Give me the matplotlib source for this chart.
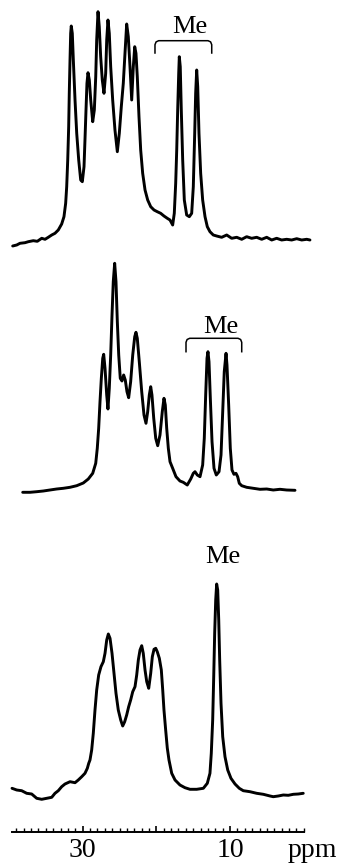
import numpy as np
import matplotlib
matplotlib.use("Agg")
import matplotlib.pyplot as plt
from matplotlib import ticker

plt.rcParams['font.family'] = ['Liberation Serif', 'DejaVu Serif']

# traced spectra: (chemical shift ppm, intensity a.u.)
spec_top = [
    (39.50, 0.0), (38.95, 1.0), (38.51, 2.7), (37.83, 3.3), (37.38, 4.3), (36.70, 5.3),
    (36.16, 4.7), (35.56, 7.7), (35.11, 6.7), (34.67, 8.7), (34.20, 11.0), (33.76, 12.7),
    (33.31, 16.0), (32.85, 22.0), (32.54, 29.3), (32.31, 42.7), (32.17, 59.3), (32.03, 86.0),
    (31.90, 119.3), (31.82, 152.7), (31.72, 186.0), (31.63, 212.7), (31.55, 220.0),
    (31.41, 212.7), (31.27, 186.0), (31.04, 146.0), (30.81, 112.7), (30.54, 86.0),
    (30.27, 66.0), (30.05, 64.3), (29.82, 79.3), (29.69, 106.0), (29.55, 136.0),
    (29.42, 162.7), (29.28, 173.3), (29.10, 166.0), (28.91, 146.0), (28.64, 124.3),
    (28.42, 136.0), (28.23, 169.3), (28.10, 206.0), (27.92, 234.3), (27.75, 219.3),
    (27.56, 189.3), (27.34, 166.0), (27.11, 152.7), (26.88, 172.7), (26.74, 206.0),
    (26.57, 226.0), (26.39, 212.7), (26.20, 179.3), (25.93, 146.0), (25.62, 116.0),
    (25.30, 94.3), (25.03, 112.7), (24.76, 139.3), (24.49, 162.7), (24.26, 192.7),
    (24.03, 222.0), (23.81, 209.3), (23.58, 179.3), (23.35, 146.0), (23.13, 179.3),
    (22.94, 199.3), (22.77, 192.7), (22.59, 169.3), (22.36, 129.3), (22.13, 96.0),
    (21.86, 72.7), (21.54, 56.0), (21.18, 46.0), (20.77, 39.3), (20.32, 36.0),
    (19.88, 34.3), (19.42, 32.7), (18.97, 30.0), (18.52, 27.7), (18.15, 26.0),
    (17.79, 21.0), (17.57, 32.7), (17.38, 62.7), (17.24, 96.0), (17.11, 136.0),
    (16.97, 172.7), (16.89, 189.3), (16.76, 179.3), (16.62, 136.0), (16.43, 86.0),
    (16.21, 46.0), (15.89, 31.0), (15.53, 29.3), (15.21, 32.7), (14.99, 59.3),
    (14.80, 112.7), (14.67, 152.7), (14.53, 176.0), (14.39, 159.3), (14.22, 112.7),
    (13.99, 72.7), (13.72, 46.0), (13.40, 29.3), (13.09, 19.3), (12.73, 14.3),
    (12.28, 11.0), (11.82, 10.0), (11.14, 8.7), (10.46, 11.0), (9.78, 7.7), (9.10, 8.7),
    (8.42, 6.7), (7.75, 9.3), (7.07, 7.7), (6.39, 8.7), (5.71, 6.7), (5.03, 8.7),
    (4.35, 6.0), (3.68, 7.7), (3.00, 6.0), (2.32, 6.7), (1.64, 6.0), (0.96, 7.3),
    (0.28, 6.0), (-0.40, 6.7), (-0.84, 6.0),
]

spec_mid = [
    (38.14, 0.7), (37.15, 0.7), (36.24, 1.3), (35.34, 2.0), (34.44, 3.0), (33.53, 4.0),
    (32.63, 4.7), (31.72, 5.7), (30.81, 7.3), (29.92, 10.0), (29.24, 14.0), (28.64, 19.7),
    (28.23, 29.7), (28.02, 44.7), (27.83, 64.7), (27.65, 91.3), (27.47, 114.7),
    (27.28, 134.7), (27.15, 138.7), (26.97, 124.7), (26.74, 98.0), (26.57, 84.0),
    (26.39, 104.7), (26.20, 138.0), (26.02, 178.0), (25.85, 211.3), (25.66, 229.7),
    (25.48, 211.3), (25.30, 171.3), (25.11, 138.0), (24.90, 114.7), (24.67, 112.0),
    (24.44, 118.0), (24.22, 113.0), (23.99, 101.3), (23.76, 95.3), (23.49, 111.3),
    (23.21, 138.0), (22.94, 156.3), (22.77, 160.7), (22.59, 154.7), (22.32, 131.3),
    (21.99, 101.3), (21.68, 78.0), (21.41, 69.7), (21.18, 81.3), (20.96, 98.0),
    (20.77, 106.3), (20.60, 98.0), (20.36, 74.7), (20.09, 54.7), (19.82, 47.3),
    (19.51, 58.0), (19.20, 81.3), (18.97, 94.7), (18.79, 88.0), (18.60, 64.7),
    (18.38, 44.7), (18.15, 31.3), (17.79, 24.7), (17.34, 16.3), (16.80, 12.0),
    (16.35, 10.7), (15.81, 8.0), (15.34, 14.0), (14.99, 19.7), (14.76, 21.3),
    (14.45, 18.0), (14.08, 16.3), (13.72, 28.0), (13.50, 54.7), (13.31, 98.0),
    (13.13, 134.7), (13.00, 141.3), (12.86, 131.3), (12.68, 94.7), (12.45, 51.3),
    (12.18, 24.7), (11.87, 18.0), (11.50, 21.3), (11.23, 38.0), (11.00, 81.3),
    (10.79, 121.3), (10.55, 139.7), (10.42, 128.0), (10.19, 88.0), (9.97, 44.7),
    (9.74, 23.0), (9.47, 18.7), (9.20, 19.7), (8.97, 16.3), (8.75, 9.7), (8.42, 7.3),
    (7.75, 5.7), (6.85, 4.7), (5.94, 3.7), (5.03, 4.0), (4.14, 3.0), (3.23, 3.7),
    (2.32, 3.0), (1.19, 2.7),
]

spec_bot = [
    (39.59, 11.7), (38.95, 10.0), (38.28, 9.3), (37.60, 6.7), (36.92, 6.0), (36.24, 1.7),
    (35.56, 0.7), (34.88, 1.7), (34.20, 2.7), (33.76, 6.7), (33.31, 9.3), (32.85, 13.3),
    (32.40, 16.0), (31.72, 18.3), (31.04, 17.3), (30.60, 20.0), (30.13, 23.3),
    (29.69, 26.7), (29.37, 31.7), (29.18, 36.7), (29.01, 40.0), (28.78, 50.0),
    (28.56, 66.7), (28.33, 90.0), (28.10, 110.0), (27.83, 125.0), (27.52, 133.3),
    (27.20, 138.3), (26.97, 146.7), (26.74, 160.0), (26.52, 166.0), (26.29, 161.7),
    (26.02, 146.7), (25.75, 126.7), (25.48, 106.7), (25.17, 90.0), (24.84, 80.0),
    (24.57, 74.0), (24.30, 78.3), (24.03, 85.0), (23.76, 93.3), (23.49, 100.0),
    (23.21, 108.3), (22.90, 113.3), (22.67, 125.0), (22.45, 140.0), (22.22, 150.0),
    (21.99, 154.3), (21.78, 146.7), (21.54, 130.0), (21.31, 118.3), (21.04, 111.7),
    (20.77, 126.7), (20.55, 143.3), (20.32, 150.7), (20.09, 151.7), (19.88, 148.3),
    (19.60, 141.7), (19.33, 130.0), (19.14, 110.0), (18.97, 90.0), (18.74, 70.0),
    (18.52, 52.0), (18.29, 40.0), (17.92, 26.7), (17.47, 20.0), (16.80, 15.0),
    (16.12, 12.3), (15.44, 10.7), (14.53, 10.7), (13.63, 11.7), (13.09, 16.7),
    (12.73, 26.7), (12.55, 46.7), (12.36, 80.0), (12.22, 123.3), (12.09, 166.7),
    (11.95, 200.0), (11.82, 216.0), (11.68, 210.0), (11.54, 180.0), (11.41, 140.0),
    (11.23, 96.7), (11.00, 63.3), (10.69, 43.3), (10.32, 30.0), (9.88, 21.7),
    (9.33, 16.0), (8.75, 11.7), (8.21, 9.3), (7.30, 8.3), (6.39, 6.7), (5.49, 5.7),
    (4.58, 4.0), (4.14, 3.3), (3.46, 4.0), (2.78, 5.0), (2.10, 4.7), (1.42, 5.7),
    (0.74, 6.0), (0.07, 6.7),
]

# "Me" label: (ppm of label, bracket span in ppm or None)
me_labels = [
    (15.44, (20.19, 12.49)),
    (11.27, (15.98, 8.42)),
    (11.03, None),
]

scale_range = (0.0, 39.6)
major_ticks = [30, 20, 10]
major_labels = ['30', '', '10']


def draw_bracket(ax, x0, x1, y_top, y_end):
    dx, dy = 0.5, 4.0
    xs = [x0, x0, x0 - 0.15, x0 - dx, x1 + dx, x1 + 0.15, x1, x1]
    ys = [y_end, y_top - dy, y_top - 1.2, y_top, y_top, y_top - 1.2, y_top - dy, y_end]
    ax.plot(xs, ys, color='black', lw=1.1, solid_joinstyle='round')


def main():
    fig = plt.figure(figsize=(3.39, 8.65), dpi=100)
    ax = fig.add_axes([0, 0, 1, 1])
    ax.set_xlim(41.22, -4.78)
    ax.set_ylim(0, 865)

    # stacking offsets and label placement (a.u. above baseline)
    offsets = [619, 372, 65]
    label_h = [213, 159.7, 236.7]
    bracket_h = [(205.3, 193.0), (154.7, 141.3), None]

    for spec, off, (me_x, span), lh, bh in zip(
            [spec_top, spec_mid, spec_bot], offsets, me_labels, label_h, bracket_h):
        arr = np.array(spec)
        ax.plot(arr[:, 0], arr[:, 1] + off, color='black', lw=2.1,
                solid_joinstyle='round', solid_capstyle='round')
        ax.text(me_x, off + lh, 'Me', ha='center', va='baseline', fontsize=19)
        if span is not None:
            draw_bracket(ax, span[0], span[1], off + bh[0], off + bh[1])

    for side in ['top', 'left', 'right']:
        ax.spines[side].set_visible(False)
    ax.spines['bottom'].set_position(('data', 33))
    ax.spines['bottom'].set_bounds(*scale_range)
    ax.spines['bottom'].set_linewidth(1.4)

    ax.set_xticks(major_ticks)
    ax.set_xticklabels(major_labels)
    ax.xaxis.set_minor_locator(ticker.FixedLocator(np.arange(0, 40, 1)))
    ax.tick_params(axis='x', which='major', direction='in', length=4.5, width=1.2,
                   pad=4, labelsize=20)
    ax.tick_params(axis='x', which='minor', direction='in', length=3, width=1.0)
    ax.tick_params(axis='y', left=False, labelleft=False)

    ax.annotate('ppm', xy=(-1.1, 33), xycoords='data', xytext=(0, -4),
                textcoords='offset points', ha='center', va='top', fontsize=20)

    fig.savefig('out.png', dpi=100)


if __name__ == '__main__':
    main()
